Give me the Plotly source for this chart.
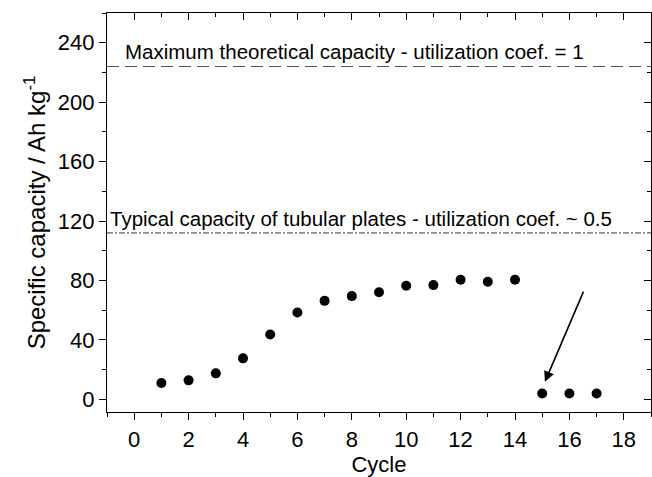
import plotly.graph_objects as go

cycles = [1, 2, 3, 4, 5, 6, 7, 8, 9, 10, 11, 12, 13, 14, 15, 16, 17]
capacity = [11, 12.8, 17.5, 27.6, 43.7, 58.4, 66.3, 69.5, 72.1, 76.5, 76.9, 80.5, 79.2, 80.5, 4.0, 4.0, 4.0]

max_theoretical = 224
typical_tubular = 112
label_max = "Maximum theoretical capacity - utilization coef. = 1"
label_typ = "Typical capacity of tubular plates - utilization coef. ~ 0.5"

x_range = [-1, 19]
y_range = [-8.5, 260]
x_ticks = [0, 2, 4, 6, 8, 10, 12, 14, 16, 18]
y_ticks = [0, 40, 80, 120, 160, 200, 240]

FONT = "Liberation Sans, Arial, sans-serif"

fig = go.Figure()
fig.add_trace(go.Scatter(x=cycles, y=capacity, mode="markers",
                         marker=dict(color="black", size=10), showlegend=False))

fig.add_shape(type="line", xref="paper", x0=0, x1=1, yref="y",
              y0=max_theoretical, y1=max_theoretical,
              line=dict(color="#555555", width=1.2, dash="12px,6px"))
fig.add_shape(type="line", xref="paper", x0=0, x1=1, yref="y",
              y0=typical_tubular, y1=typical_tubular,
              line=dict(color="#333333", width=1, dash="6px,2px,2px,2px"))

fig.add_annotation(x=-0.42, y=max_theoretical + 10, xref="x", yref="y",
                   text=label_max, showarrow=False, xanchor="left", yanchor="middle",
                   font=dict(family=FONT, size=20.5, color="black"))
fig.add_annotation(x=-0.95, y=typical_tubular + 10, xref="x", yref="y",
                   text=label_typ, showarrow=False, xanchor="left", yanchor="middle",
                   font=dict(family=FONT, size=20.5, color="black"))

fig.add_annotation(x=15.1, y=11.8, ax=16.54, ay=73.5, xref="x", yref="y",
                   axref="x", ayref="y", text="", showarrow=True,
                   arrowhead=2, arrowsize=1.3, arrowwidth=1.6, arrowcolor="black")

axis_common = dict(showline=True, linecolor="black", linewidth=1.2,
                   showgrid=False, zeroline=False,
                   tickfont=dict(family=FONT, size=22, color="black"),
                   ticklen=7, tickwidth=1.2, tickcolor="black")

fig.update_layout(
    width=652, height=477,
    margin=dict(l=107, r=1, t=13, b=65),
    plot_bgcolor="white", paper_bgcolor="white",
    font=dict(family=FONT, color="black"),
    xaxis=dict(range=x_range, tickvals=x_ticks, ticks="outside",
               title=dict(text="Cycle", font=dict(family=FONT, size=22), standoff=8),
               minor=dict(dtick=1, tick0=0, ticks="outside", ticklen=4, tickcolor="black", tickwidth=1.2),
               **axis_common),
    yaxis=dict(range=y_range, tickvals=y_ticks, ticks="outside",
               title=dict(text="Specific capacity / Ah kg<sup>-1</sup>", font=dict(family=FONT, size=24), standoff=5),
               minor=dict(dtick=20, tick0=0, ticks="outside", ticklen=4, tickcolor="black", tickwidth=1.2),
               **axis_common),
    xaxis2=dict(overlaying="x", side="top", range=x_range, tickvals=x_ticks,
                ticks="inside", showticklabels=False,
                minor=dict(dtick=1, tick0=0, ticks="inside", ticklen=4, tickcolor="black", tickwidth=1.2),
                **axis_common),
    yaxis2=dict(overlaying="y", side="right", range=y_range, tickvals=y_ticks,
                ticks="inside", showticklabels=False,
                minor=dict(dtick=20, tick0=0, ticks="inside", ticklen=4, tickcolor="black", tickwidth=1.2),
                **axis_common),
)
fig.add_trace(go.Scatter(x=[None], y=[None], xaxis="x2", yaxis="y2", showlegend=False, hoverinfo="skip"))

fig.write_html("out.html")
